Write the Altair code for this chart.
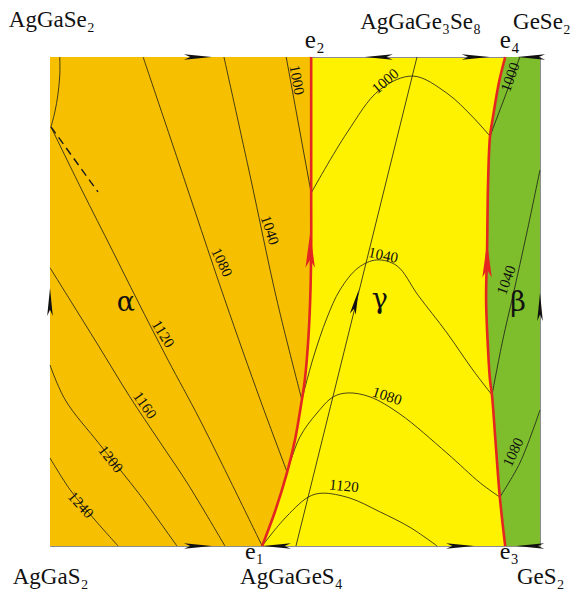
import altair as alt
import pandas as pd

# ---- composition square: x = share of GeX2 side, y = share of Se side ----
# Boundary alpha / gamma (e1 -> e2)
AG_X = [0.433, 0.459, 0.484, 0.500, 0.514, 0.520, 0.527, 0.531, 0.533, 0.533, 0.533, 0.533]
AG_Y = [0.000, 0.070, 0.151, 0.217, 0.299, 0.339, 0.421, 0.503, 0.605, 0.722, 0.871, 1.000]
# Boundary gamma / beta (e3 -> e4)
GB_X = [0.929, 0.918, 0.908, 0.902, 0.898, 0.894, 0.890, 0.892, 0.894, 0.898, 0.904, 0.916, 0.929]
GB_Y = [0.000, 0.100, 0.231, 0.309, 0.339, 0.401, 0.503, 0.605, 0.742, 0.838, 0.877, 0.947, 1.000]

# Isotherms in the alpha field
A_ARC_X = [0.020, 0.020, 0.016, 0.010, 0.002]
A_ARC_Y = [1.000, 0.963, 0.922, 0.888, 0.857]
A1000_X = [0.482, 0.533]
A1000_Y = [1.000, 0.722]
A1040_X = [0.355, 0.408, 0.463, 0.514]
A1040_Y = [1.000, 0.759, 0.503, 0.299]
A1080_X = [0.190, 0.261, 0.357, 0.429, 0.484]
A1080_Y = [1.000, 0.789, 0.503, 0.299, 0.151]
A1120_X = [0.002, 0.065, 0.127, 0.178, 0.241, 0.306, 0.433]
A1120_Y = [0.857, 0.728, 0.605, 0.503, 0.380, 0.258, 0.000]
A1160_X = [0.000, 0.041, 0.098, 0.163, 0.224, 0.280, 0.357]
A1160_Y = [0.569, 0.503, 0.411, 0.305, 0.213, 0.129, 0.000]
A1200_X = [0.000, 0.031, 0.102, 0.184, 0.259]
A1200_Y = [0.370, 0.299, 0.207, 0.104, 0.000]
A1240_X = [0.000, 0.041, 0.092, 0.139]
A1240_Y = [0.180, 0.115, 0.053, 0.000]
DASH_X = [0.002, 0.098]
DASH_Y = [0.857, 0.724]

# Isotherms in the gamma field
G1000_X = [0.533, 0.606, 0.673, 0.741, 0.810, 0.863, 0.898]
G1000_Y = [0.722, 0.845, 0.933, 0.961, 0.926, 0.877, 0.838]
G1040_X = [0.514, 0.537, 0.565, 0.592, 0.629, 0.667, 0.708, 0.751, 0.810, 0.863, 0.902]
G1040_Y = [0.299, 0.384, 0.466, 0.524, 0.569, 0.585, 0.573, 0.513, 0.436, 0.360, 0.309]
G1080_X = [0.484, 0.510, 0.545, 0.578, 0.608, 0.653, 0.714, 0.810, 0.878, 0.918]
G1080_Y = [0.151, 0.223, 0.272, 0.305, 0.313, 0.305, 0.270, 0.190, 0.129, 0.100]
G1120_X = [0.433, 0.476, 0.527, 0.555, 0.612, 0.673, 0.735, 0.790]
G1120_Y = [0.000, 0.053, 0.100, 0.108, 0.098, 0.070, 0.038, 0.000]
SECTION_X = [0.502, 0.749]
SECTION_Y = [0.000, 1.000]

# Isotherms in the beta field
B1000_X = [0.898, 0.959]
B1000_Y = [0.838, 1.000]
B1040_X = [0.902, 0.924, 0.945, 0.973, 1.000]
B1040_Y = [0.309, 0.421, 0.513, 0.640, 0.769]
B1080_X = [0.918, 0.959, 1.000]
B1080_Y = [0.100, 0.170, 0.278]

# Isotherm labels: text, x, y, rotation
ISO_TEXT = ["1000", "1040", "1080", "1120", "1160", "1200", "1240",
            "1000", "1040", "1080", "1120", "1000", "1040", "1080"]
ISO_X = [0.504, 0.449, 0.351, 0.231, 0.194, 0.124, 0.063,
         0.684, 0.680, 0.688, 0.600, 0.939, 0.931, 0.945]
ISO_Y = [0.953, 0.646, 0.580, 0.434, 0.288, 0.178, 0.084,
         0.951, 0.595, 0.307, 0.123, 0.959, 0.544, 0.192]
ISO_ANGLE = [80, 72, 64, 58, 55, 52, 48, 320, 12, 18, 6, 290, 290, 295]

# Direction arrows along the edges of the square
EDGE_ARROW_X = [0.302, 0.671, 0.869, 0.982, 0.302, 0.463, 0.837, 0.980, 0.000, 1.000]
EDGE_ARROW_Y = [1.0, 1.0, 1.0, 1.0, 0.0, 0.0, 0.0, 0.0, 0.499, 0.489]
EDGE_ARROW_ANGLE = [0, 180, 0, 180, 0, 180, 0, 180, 270, 270]

# Arrows on the boundary curves and on the section line
RED_ARROW_X = [0.531, 0.892]
RED_ARROW_Y = [0.605, 0.585]
SEC_ARROW_X = [0.624]
SEC_ARROW_Y = [0.499]

# Corner / point names
NAME_TEXT = ["AgGaSe₂", "AgGaGe₃Se₈", "GeSe₂", "e₂", "e₄",
             "e₁", "e₃", "AgGaS₂", "AgGaGeS₄", "GeS₂"]
NAME_X = [-0.084, 0.633, 0.945, 0.520, 0.918,
          0.398, 0.918, -0.076, 0.388, 0.953]
NAME_Y = [1.061, 1.057, 1.057, 1.018, 1.018,
          -0.026, -0.026, -0.078, -0.078, -0.078]
NAME_SIZE = [23, 23, 23, 25, 25, 24, 24, 23, 23, 23]

PHASE_TEXT = ["α", "γ", "β"]
PHASE_X = [0.155, 0.673, 0.955]
PHASE_Y = [0.497, 0.504, 0.497]

ORANGE = "#F6C000"
YELLOW = "#FFF200"
GREEN = "#7EBD2B"
RED = "#E3261F"
SERIF = "Liberation Serif"


def curve(name, xs, ys):
    return pd.DataFrame({"name": name, "i": range(len(xs)), "x": xs, "y": ys})


X = lambda f="x": alt.X(f"{f}:Q", scale=alt.Scale(domain=[0, 1], nice=False, zero=False), axis=None)
Y = lambda f="y": alt.Y(f"{f}:Q", scale=alt.Scale(domain=[0, 1], nice=False, zero=False), axis=None)

alpha_df = pd.DataFrame({"x": AG_X, "y": AG_Y, "x0": 0.0})
beta_df = pd.DataFrame({"x": GB_X, "y": GB_Y, "x1": 1.0})

alpha_area = alt.Chart(alpha_df).mark_area(
    orient="horizontal", interpolate="catmull-rom", color=ORANGE
).encode(y=Y(), x=X(), x2="x0:Q")
beta_area = alt.Chart(beta_df).mark_area(
    orient="horizontal", interpolate="catmull-rom", color=GREEN
).encode(y=Y(), x=X(), x2="x1:Q")

iso_df = pd.concat([
    curve("a_arc", A_ARC_X, A_ARC_Y),
    curve("a1000", A1000_X, A1000_Y),
    curve("a1040", A1040_X, A1040_Y),
    curve("a1080", A1080_X, A1080_Y),
    curve("a1120", A1120_X, A1120_Y),
    curve("a1160", A1160_X, A1160_Y),
    curve("a1200", A1200_X, A1200_Y),
    curve("a1240", A1240_X, A1240_Y),
    curve("g1000", G1000_X, G1000_Y),
    curve("g1040", G1040_X, G1040_Y),
    curve("g1080", G1080_X, G1080_Y),
    curve("g1120", G1120_X, G1120_Y),
    curve("section", SECTION_X, SECTION_Y),
    curve("b1000", B1000_X, B1000_Y),
    curve("b1040", B1040_X, B1040_Y),
    curve("b1080", B1080_X, B1080_Y),
], ignore_index=True)

isotherms = alt.Chart(iso_df).mark_line(
    interpolate="catmull-rom", color="#1a1a1a", strokeWidth=0.8
).encode(x=X(), y=Y(), detail="name:N", order="i:Q")

dashed = alt.Chart(curve("dash", DASH_X, DASH_Y)).mark_line(
    color="#1a1a1a", strokeWidth=1.4, strokeDash=[8, 5]
).encode(x=X(), y=Y(), order="i:Q")

bound_df = pd.concat([curve("ag", AG_X, AG_Y), curve("gb", GB_X, GB_Y)], ignore_index=True)
boundaries = alt.Chart(bound_df).mark_line(
    interpolate="catmull-rom", color=RED, strokeWidth=2.6
).encode(x=X(), y=Y(), detail="name:N", order="i:Q")

DART = "M 1 0 L -1 -0.2 L -0.55 0 L -1 0.2 Z"

edge_arrows = alt.Chart(pd.DataFrame({
    "x": EDGE_ARROW_X, "y": EDGE_ARROW_Y, "a": EDGE_ARROW_ANGLE
})).mark_point(shape=DART, filled=True, color="#111111", opacity=1, size=784, strokeWidth=0).encode(
    x=X(), y=Y(), angle=alt.Angle("a:Q", scale=None)
)

red_arrows = alt.Chart(pd.DataFrame({"x": RED_ARROW_X, "y": RED_ARROW_Y})).mark_point(
    shape="M 1 0 L -1 -0.27 L -0.55 0 L -1 0.27 Z", filled=True, color=RED, opacity=1,
    size=1225, strokeWidth=0, angle=270
).encode(x=X(), y=Y())

sec_arrow = alt.Chart(pd.DataFrame({"x": SEC_ARROW_X, "y": SEC_ARROW_Y})).mark_point(
    shape="M 1 0 L -1 -0.24 L -0.55 0 L -1 0.24 Z", filled=True, color="#111111", opacity=1,
    size=625, strokeWidth=0, angle=284
).encode(x=X(), y=Y())

iso_labels = alt.Chart(pd.DataFrame({
    "t": ISO_TEXT, "x": ISO_X, "y": ISO_Y, "a": ISO_ANGLE
})).mark_text(font=SERIF, fontSize=15, color="#111111", align="center", baseline="middle").encode(
    x=X(), y=Y(), text="t:N", angle=alt.Angle("a:Q", scale=None)
)

names = alt.Chart(pd.DataFrame({
    "t": NAME_TEXT, "x": NAME_X, "y": NAME_Y, "s": NAME_SIZE
})).mark_text(font=SERIF, color="#111111", align="left", baseline="alphabetic").encode(
    x=X(), y=Y(), text="t:N", size=alt.Size("s:Q", scale=None)
)

phases = alt.Chart(pd.DataFrame({"t": PHASE_TEXT, "x": PHASE_X, "y": PHASE_Y})).mark_text(
    font="DejaVu Serif", fontSize=27, color="#111111", align="center", baseline="middle"
).encode(x=X(), y=Y(), text="t:N")

chart = alt.layer(
    alpha_area, beta_area, isotherms, dashed, boundaries,
    edge_arrows, red_arrows, sec_arrow, iso_labels, names, phases
).properties(
    width=490, height=489,
    padding={"left": 50, "top": 57, "right": 30, "bottom": 44},
    autosize=alt.AutoSizeParams(type="none"),
    background="white",
).configure_view(fill=YELLOW, stroke="#8c8c8c", strokeWidth=1)

chart.save("out.html", embed_options={"renderer": "svg", "actions": False})
